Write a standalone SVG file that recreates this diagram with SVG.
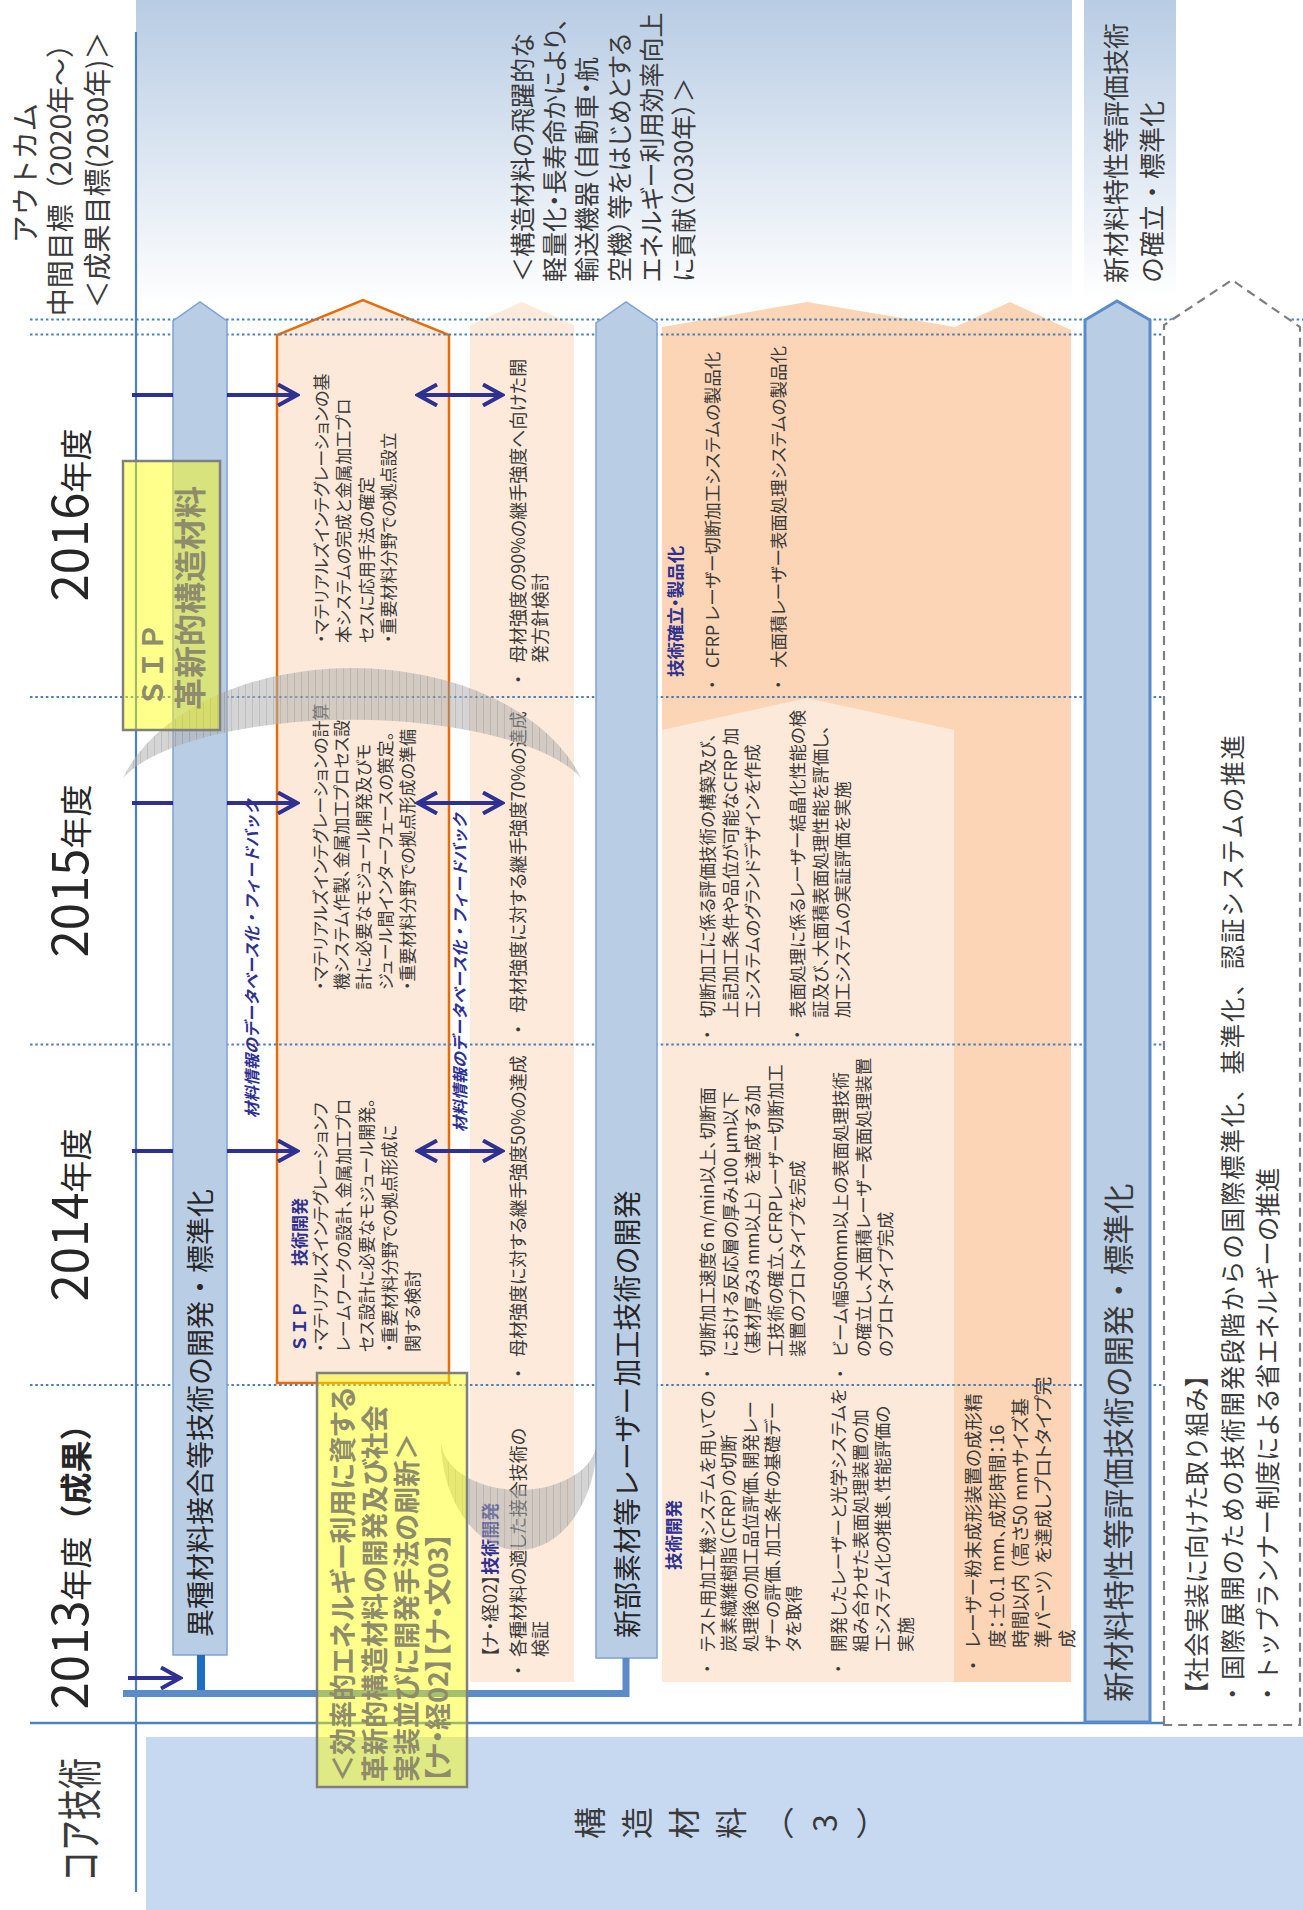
<svg xmlns="http://www.w3.org/2000/svg" width="1303" height="1910" viewBox="0 0 1303 1910">
<defs>
<style>
text{font-family:'Noto Sans CJK JP','Noto Sans',sans-serif;fill:#3a3a3a}
.pp{font-feature-settings:"palt" 1}
.f17{font-size:17px}
.f175{font-size:17.5px}
.f18{font-size:18px}
.nv{fill:#2e3192;font-weight:bold}
.title{font-size:28px;fill:#262626}
.yr{fill:#262626}
.yl{fill:#8e8c6a;font-weight:bold}
.lbl{font-size:16px;font-weight:bold;font-style:italic;fill:#2e3192}
.blue-lane{fill:#b9cde5;stroke:#7ea3d6;stroke-width:1.5}
.grid path{stroke:#4a7ebb;stroke-width:2;stroke-dasharray:2.5 2.8;fill:none}
.arrow{stroke:#2e3192;stroke-width:4;fill:none}
.sticky{fill:#ffff00;fill-opacity:0.45;stroke:#808080;stroke-width:2.5}
.arc{fill:url(#hatch);opacity:0.55}
</style>
<linearGradient id="sky" x1="0" y1="0" x2="0" y2="1">
<stop offset="0" stop-color="#b8cce4"/>
<stop offset="1" stop-color="#ffffff"/>
</linearGradient>
<pattern id="hatch" width="7" height="10" patternUnits="userSpaceOnUse">
<rect width="7" height="10" fill="#b0b0b0"/>
<line x1="0.5" y1="0" x2="0.5" y2="10" stroke="#8a8a8a" stroke-width="1"/>
</pattern>
<marker id="chev" viewBox="0 0 24 24" refX="21" refY="12" markerWidth="24" markerHeight="24" markerUnits="userSpaceOnUse" orient="auto-start-reverse">
<path d="M2,1.5 L21,12 L2,22.5" fill="none" stroke="#2e3192" stroke-width="4"/>
</marker>
</defs>

<!-- outcome band background -->
<g id="outcome-band">
<rect x="136" y="0" width="936" height="306" fill="url(#sky)"/>
<rect x="1084" y="0" width="92" height="300" fill="url(#sky)"/>
<text font-size="28" text-anchor="middle" fill="#333" transform="translate(0 170) rotate(-90)">
<tspan x="0" y="35.6">アウトカム</tspan>
<tspan x="0" y="70.6">中間目標（2020年～）</tspan>
<tspan x="0" y="107.6">＜成果目標(2030年)＞</tspan>
</text>
<text class="pp" font-size="25" transform="translate(0 282) rotate(-90)">
<tspan x="0" y="532">＜構造材料の飛躍的な</tspan>
<tspan x="0" y="564.2">軽量化・長寿命かにより、</tspan>
<tspan x="0" y="596.4">輸送機器（自動車・航</tspan>
<tspan x="0" y="628.6">空機）等をはじめとする</tspan>
<tspan x="0" y="660.8">エネルギー利用効率向上</tspan>
<tspan x="0" y="693">に貢献（2030年）＞</tspan>
</text>
<text font-size="26" transform="translate(0 283) rotate(-90)">
<tspan x="0" y="1126">新材料特性等評価技術</tspan>
<tspan x="0" y="1162">の確立・標準化</tspan>
</text>
</g>

<!-- core technology row -->
<g id="core-tech">
<rect x="146" y="1737" width="1157" height="173" fill="#c6d9f1"/>
<text font-size="31" text-anchor="middle" fill="#262626" transform="translate(97 1820) rotate(-90) scale(1 1.45)">コア技術</text>
<text font-size="32" text-anchor="middle" fill="#262626" style="writing-mode:vertical-rl;text-orientation:upright;letter-spacing:15px" transform="translate(738 1823) rotate(-90)">構造材料（3）</text>
</g>

<!-- year axis -->
<g id="years">
<path d="M136,32 V1892" stroke="#4f81bd" stroke-width="2.2"/>
<path d="M30,1723 H1167" stroke="#4f81bd" stroke-width="2.5"/>
<text class="yr" text-anchor="middle" transform="translate(88 515) rotate(-90)"><tspan font-size="49">2016</tspan><tspan font-size="32">年度</tspan></text>
<text class="yr" text-anchor="middle" transform="translate(88 871) rotate(-90)"><tspan font-size="49">2015</tspan><tspan font-size="32">年度</tspan></text>
<text class="yr" text-anchor="middle" transform="translate(88 1215) rotate(-90)"><tspan font-size="49">2014</tspan><tspan font-size="32">年度</tspan></text>
<text class="yr" text-anchor="middle" transform="translate(88 1559) rotate(-90)"><tspan font-size="49">2013</tspan><tspan font-size="32">年度</tspan><tspan font-size="32" font-weight="bold">（成果）</tspan></text>
</g>

<!-- SIP materials integration lane -->
<g id="sip-materials-integration">
<polygon points="277,1383 277,335 363,300 449,335 449,1383" fill="#fde9d9" stroke="#e46c0a" stroke-width="2.5"/>
<text class="f17 pp" transform="translate(327.5 643) rotate(-90)">
<tspan x="0" y="0">・マテリアルズインテグレーションの基</tspan>
<tspan x="0" y="22.5">本システムの完成と金属加工プロ</tspan>
<tspan x="0" y="45">セスに応用手法の確定</tspan>
<tspan x="0" y="67.5">・重要材料分野での拠点設立</tspan>
</text>
<text class="f17 pp" transform="translate(326.5 990) rotate(-90)">
<tspan x="0" y="0">・マテリアルズインテグレーションの計算</tspan>
<tspan x="0" y="21.8">機システム作製、金属加工プロセス設</tspan>
<tspan x="0" y="43.6">計に必要なモジュール開発及びモ</tspan>
<tspan x="0" y="65.4">ジュール間インターフェースの策定。</tspan>
<tspan x="0" y="87.2">・重要材料分野での拠点形成の準備</tspan>
</text>
<text class="f17" transform="translate(305.5 1352) rotate(-90)">
<tspan class="nv" x="0" y="0">ＳＩＰ</tspan><tspan class="nv" x="86" y="0">技術開発</tspan>
<tspan class="pp" x="0" y="21">・マテリアルズインテグレーションフ</tspan>
<tspan class="pp" x="0" y="44">レームワークの設計、金属加工プロ</tspan>
<tspan class="pp" x="0" y="67">セス設計に必要なモジュール開発。</tspan>
<tspan class="pp" x="0" y="90">・重要材料分野での拠点形成に</tspan>
<tspan class="pp" x="0" y="113">関する検討</tspan>
</text>
</g>

<!-- joint strength lane -->
<g id="joint-strength">
<polygon points="470,1682 470,325 522,302 574,325 574,1682" fill="#fdeadb"/>
<text class="f18 pp" transform="translate(524.8 663) rotate(-90)">
<tspan x="-21" y="0">・</tspan><tspan x="0" y="0">母材強度の90%の継手強度へ向けた開</tspan>
<tspan x="0" y="22">発方針検討</tspan>
</text>
<text class="f18 pp" transform="translate(524.8 1013) rotate(-90)">
<tspan x="-21" y="0">・</tspan><tspan x="0" y="0">母材強度に対する継手強度70%の達成</tspan>
</text>
<text class="f18 pp" transform="translate(524.8 1357) rotate(-90)">
<tspan x="-21" y="0">・</tspan><tspan x="0" y="0">母材強度に対する継手強度50%の達成</tspan>
</text>
<text class="f18 pp" transform="translate(496.8 1657) rotate(-90)">
<tspan x="0" y="0">【ナ・経02】</tspan><tspan class="nv">技術開発</tspan>
<tspan x="-18" y="28">・</tspan><tspan x="0" y="28">各種材料の適した接合技術の</tspan>
<tspan x="0" y="50">検証</tspan>
</text>
</g>

<!-- laser processing results lane -->
<g id="laser-results">
<polygon points="662,1682 662,327 807,302 955,327 1010,302 1071,330 1071,1682" fill="#fbd5b5"/>
<polygon points="662,1682 662,730 807,698 954,730 954,1682" fill="#fde9d9"/>
<text class="f175 nv pp" transform="translate(681.6 677) rotate(-90)">技術確立・製品化</text>
<text class="f175 pp" transform="translate(718.6 668) rotate(-90)">
<tspan x="-21" y="0">・</tspan><tspan x="0" y="0">CFRP レーザー切断加工システムの製品化</tspan>
<tspan x="-21" y="66">・</tspan><tspan x="0" y="66">大面積レーザー表面処理システムの製品化</tspan>
</text>
<text class="f175 pp" transform="translate(713.6 1018) rotate(-90)">
<tspan x="-21" y="0">・</tspan><tspan x="0" y="0">切断加工に係る評価技術の構築及び、</tspan>
<tspan x="0" y="23">上記加工条件や品位が可能なCFRP 加</tspan>
<tspan x="0" y="45">工システムのグランドデザインを作成</tspan>
<tspan x="-21" y="90">・</tspan><tspan x="0" y="90">表面処理に係るレーザー結晶化性能の検</tspan>
<tspan x="0" y="113">証及び、大面積表面処理性能を評価し、</tspan>
<tspan x="0" y="135">加工システムの実証評価を実施</tspan>
</text>
<text class="f175 pp" transform="translate(713.6 1357) rotate(-90)">
<tspan x="-21" y="0">・</tspan><tspan x="0" y="0">切断加工速度6 m/min以上、切断面</tspan>
<tspan x="0" y="23">における反応層の厚み100 μm以下</tspan>
<tspan x="0" y="45">（基材厚み3 mm以上） を達成する加</tspan>
<tspan x="0" y="68">工技術の確立、CFRPレーザー切断加工</tspan>
<tspan x="0" y="90">装置のプロトタイプを完成</tspan>
<tspan x="-21" y="133">・</tspan><tspan x="0" y="133">ビーム幅500mm以上の表面処理技術</tspan>
<tspan x="0" y="156">の確立し、大面積レーザー表面処理装置</tspan>
<tspan x="0" y="178">のプロトタイプ完成</tspan>
</text>
<text class="f175 nv pp" transform="translate(679.6 1570) rotate(-90)">技術開発</text>
<text class="f175 pp" transform="translate(713.6 1652) rotate(-90)">
<tspan x="-21" y="0">・</tspan><tspan x="0" y="0">テスト用加工機システムを用いての</tspan>
<tspan x="0" y="21">炭素繊維樹脂（CFRP）の切断</tspan>
<tspan x="0" y="43">処理後の加工品位評価、開発レー</tspan>
<tspan x="0" y="65">ザーの評価、加工条件の基礎デー</tspan>
<tspan x="0" y="86">タを取得</tspan>
<tspan x="-21" y="131">・</tspan><tspan x="0" y="131">開発したレーザーと光学システムを</tspan>
<tspan x="0" y="153">組み合わせた表面処理装置の加</tspan>
<tspan x="0" y="175">工システム化の推進、性能評価の</tspan>
<tspan x="0" y="198">実施</tspan>
</text>
<text class="pp" font-size="18.5" transform="translate(980 1648) rotate(-90)">
<tspan x="-22" y="0">・</tspan><tspan x="0" y="0">レーザー粉末成形装置の成形精</tspan>
<tspan x="0" y="24">度：±0.1 mm、成形時間：16</tspan>
<tspan x="0" y="47">時間以内 （高さ50 mmサイズ基</tspan>
<tspan x="0" y="70">準パーツ） を達成しプロトタイプ完</tspan>
<tspan x="0" y="94">成</tspan>
</text>
</g>

<!-- fiscal year grid -->
<g id="grid" class="grid">
<path d="M30,319.5 H1303"/>
<path d="M30,334.5 H1164"/>
<path d="M30,697 H1164"/>
<path d="M30,1044.5 H1164"/>
<path d="M30,1385 H1164"/>
</g>

<!-- dissimilar material joining -->
<g id="joining-dev">
<polygon class="blue-lane" points="173,1655 173,321 200,302 227,321 227,1655"/>
<text class="title" transform="translate(210.6 1637) rotate(-90)">異種材料接合等技術の開発・標準化</text>
</g>

<!-- laser processing development -->
<g id="laser-dev">
<polygon class="blue-lane" points="596,1658 596,323 626,302 657,323 657,1658"/>
<text class="title" transform="translate(637.6 1638) rotate(-90)">新部素材等レーザー加工技術の開発</text>
</g>

<!-- material property evaluation -->
<g id="evaluation-dev">
<polygon points="1085,1722 1085,320 1117,301 1150,320 1150,1722" fill="#b9cde5" stroke="#5a8ccc" stroke-width="3"/>
<text font-size="30.5" fill="#262626" transform="translate(1129.6 1702) rotate(-90)">新材料特性等評価技術の開発・標準化</text>
</g>

<!-- social implementation -->
<g id="social-implementation">
<polygon points="1164,1725 1164,325 1232,280 1300,327 1300,1725" fill="#ffffff" stroke="#7f7f7f" stroke-width="2.2" stroke-dasharray="9 6"/>
<text font-size="24.5" fill="#333" transform="translate(1206.3 1706) rotate(-90)">
<tspan x="0" y="0">【社会実装に向けた取り組み】</tspan>
<tspan x="0" y="71">・トップランナー制度による省エネルギーの推進</tspan>
</text>
<text font-size="24.5" fill="#333" transform="translate(1242.3 1706) rotate(-90)" textLength="971" lengthAdjust="spacing">・国際展開のための技術開発段階からの国際標準化、基準化、認証システムの推進</text>
</g>

<!-- connectors -->
<g id="connectors">
<path class="arrow" d="M132,395 H173"/>
<path class="arrow" d="M227,395 H297" marker-end="url(#chev)"/>
<path class="arrow" d="M418,395 H502" marker-start="url(#chev)" marker-end="url(#chev)"/>
<path class="arrow" d="M132,803 H173"/>
<path class="arrow" d="M227,803 H297" marker-end="url(#chev)"/>
<path class="arrow" d="M418,803 H502" marker-start="url(#chev)" marker-end="url(#chev)"/>
<path class="arrow" d="M132,1151 H173"/>
<path class="arrow" d="M227,1151 H297" marker-end="url(#chev)"/>
<path class="arrow" d="M418,1151 H502" marker-start="url(#chev)" marker-end="url(#chev)"/>
<path class="arrow" d="M128,1678 H180" marker-end="url(#chev)"/>
<rect x="197" y="1655" width="8" height="39" fill="#1f6ec4"/>
<path d="M123,1693.5 H626 V1658" stroke="#5b8cc8" stroke-width="7" fill="none"/>
<text class="lbl" transform="translate(258 1118) rotate(-90)">材料情報のデータベース化・フィードバック</text>
<text class="lbl" transform="translate(466 1132) rotate(-90)">材料情報のデータベース化・フィードバック</text>
</g>

<!-- transition arcs -->
<g id="transition-arcs">
<path class="arc" d="M123,778 A240,157 0 0 1 581,778 A240,83 0 0 0 123,778 Z"/>
<path class="arc" d="M441,1440 A78,110 0 0 0 597,1440 A78,50 0 0 1 441,1440 Z"/>
</g>

<!-- SIP label -->
<g id="sip-label">
<rect class="sticky" x="123" y="461" width="97" height="269"/>
<text class="yl" font-size="28" transform="translate(162.6 707) rotate(-90)">ＳＩＰ</text>
<text class="yl" font-size="32" transform="translate(202 710) rotate(-90)">革新的構造材料</text>
</g>

<!-- project objective -->
<g id="project-objective">
<rect class="sticky" x="317" y="1373" width="150" height="414"/>
<text class="yl pp" font-size="27" transform="translate(0 1782) rotate(-90)">
<tspan x="0" y="353.3">＜効率的エネルギー利用に資する</tspan>
<tspan x="0" y="385.3">革新的構造材料の開発及び社会</tspan>
<tspan x="0" y="417.3">実装並びに開発手法の刷新＞</tspan>
<tspan x="0" y="448.3">【ナ・経02】【ナ・文03】</tspan>
</text>
</g>
</svg>
